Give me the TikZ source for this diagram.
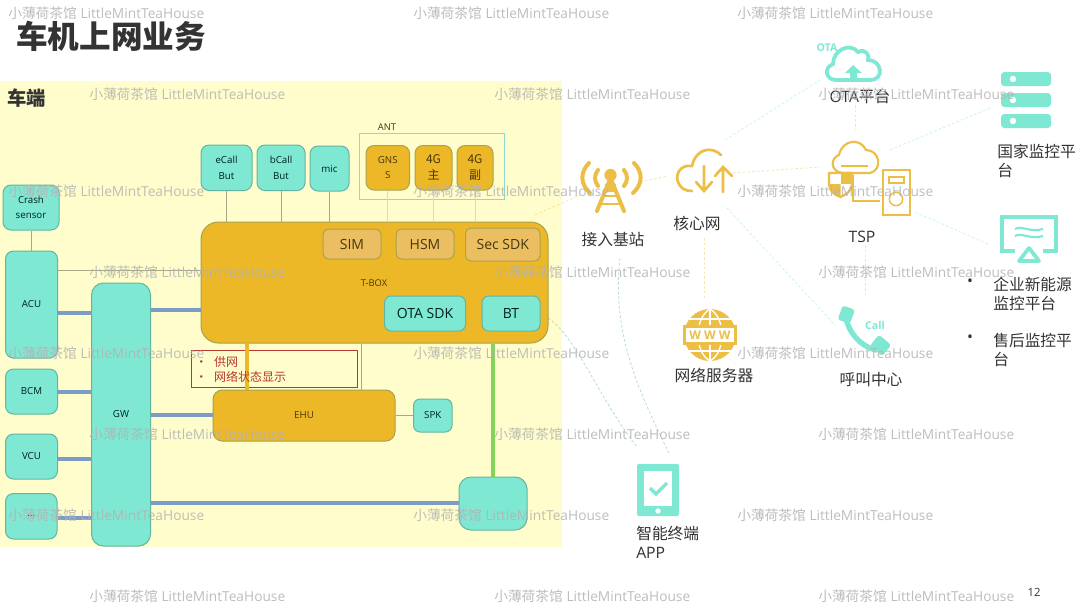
\documentclass[tikz,border=0pt]{standalone}
\usepackage{fontspec}
\setmainfont{Open Sans}
\newfontfamily\cjk{Noto Sans CJK SC}
\definecolor{tealf}{HTML}{7FE8D3}
\definecolor{teald}{HTML}{62B5A2}
\definecolor{orf}{HTML}{EDB827}
\definecolor{ord}{HTML}{A8A24E}
\definecolor{subf}{HTML}{ECBE62}
\definecolor{yel}{HTML}{FEFDCB}
\definecolor{thin}{HTML}{A9A885}
\definecolor{blu}{HTML}{7C9CC8}
\definecolor{grn}{HTML}{84D45C}
\definecolor{txt}{HTML}{333333}
\definecolor{redd}{HTML}{B5392C}
\definecolor{icon}{HTML}{EDBE45}
\definecolor{antc}{HTML}{8ED9C8}
\tikzset{
 tealbase/.style={draw=teald,fill=tealf,line width=.75pt,rounded corners=6pt,inner sep=0pt,align=center,text=black!75!teal},
 tealbox/.style={tealbase,font=\fontsize{7.3}{11.5}\selectfont,execute at begin node={\vspace*{2pt}}},
 orbox/.style={draw=ord,fill=orf,line width=.75pt,rounded corners=6pt,inner sep=0pt,align=center,text=black!70!orf,font=\fontsize{7.3}{11.5}\selectfont,execute at begin node={\vspace*{2pt}}},
 subbox/.style={draw=ord,fill=subf,line width=.75pt,rounded corners=4pt,inner sep=0pt,align=center,text=black!70!orf,font=\fontsize{10.5}{12}\selectfont},
 sdkbox/.style={tealbase,rounded corners=5pt,font=\fontsize{10.5}{12}\selectfont},
 thinline/.style={draw=thin,line width=.6pt},
 bus/.style={draw=blu,line width=2.3pt},
 green bus/.style={draw=grn,line width=2.3pt},
 link/.style={draw=#1,line width=.6pt,dash pattern=on 2pt off 1.6pt,opacity=.4},
 link/.default=tealf,
 lab/.style={inner sep=0pt,text=txt,font=\fontsize{11.8}{14.2}\selectfont,align=left},
 labc/.style={lab,font=\cjk\fontsize{11.8}{14.2}\selectfont},
 wm/.style={inner sep=0pt,text=black!30,opacity=.85,anchor=west,font=\fontsize{10.3}{12}\selectfont},
 ic/.style={draw=icon,line width=2pt,line cap=round},
 tc/.style={draw=tealf,line width=2.8pt,line cap=round}
}
\newcommand\bx[7]{\node[#6,minimum width={(#4-#2)*0.75pt},minimum height={(#5-#3)*0.75pt}] (#1) at ({(#2+#4)/2},{(#3+#5)/2}) {#7};}
\newcommand\wmk[3]{\node[wm] (#1) at (#2,#3) {{\cjk 小薄荷茶馆} LittleMintTeaHouse};}
\begin{document}
\begin{tikzpicture}[x=0.75pt,y=-0.75pt]
\useasboundingbox (0,0) rectangle (1080,608);
\fill[white] (0,0) rectangle (1080,608);
\fill[yel] (0,81) rectangle (562,547);
\node[lab,anchor=west,font=\cjk\bfseries\fontsize{23.7}{26}\selectfont] (title) at (16,36) {车机上网业务};
\node[lab,anchor=west,font=\cjk\bfseries\fontsize{14.5}{16}\selectfont] (car) at (7,98) {车端};
% boxes
\bx{crash}{3}{185}{59}{230}{tealbox}{Crash\\sensor}
\bx{acu}{5.5}{251}{57.5}{358}{tealbox}{ACU}
\bx{bcm}{5.5}{369}{57.5}{414}{tealbox}{BCM}
\bx{vcu}{5.5}{434}{57.5}{479}{tealbox}{VCU}
\bx{etc}{5.5}{493.5}{57}{539}{tealbox}{...}
\bx{gw}{91.5}{283}{150.5}{546}{tealbox,rounded corners=9pt}{GW}
\bx{ecall}{201}{145}{252}{190.5}{tealbox}{eCall\\But}
\bx{bcall}{257}{145}{305}{190.5}{tealbox}{bCall\\But}
\bx{mic}{310}{146}{349}{191}{tealbox}{mic}
\node[draw=antc,line width=.7pt,minimum width=108.75pt,minimum height=49.5pt,inner sep=0pt] (ant) at (431.5,166) {};
\node[lab,font=\fontsize{7}{9}\selectfont] (antl) at (387,127) {ANT};
\bx{gnss}{366}{145.5}{409.5}{190}{orbox}{GNS\\S}
\bx{gz}{415}{145.5}{452}{190}{orbox,font=\cjk\fontsize{9}{12}\selectfont}{4G\\主}
\bx{gf}{457}{145.5}{493}{190}{orbox,font=\cjk\fontsize{9}{12}\selectfont}{4G\\副}
\bx{tbox}{201}{222}{548}{343}{orbox,rounded corners=13pt}{}
\node[lab,font=\fontsize{7}{9}\selectfont,text=black!70!orf] (tl) at (374,283) {T-BOX};
\bx{sim}{323}{229}{381}{259}{subbox}{SIM}
\bx{hsm}{396}{229}{454}{259}{subbox}{HSM}
\bx{sec}{465.5}{228}{540}{261}{subbox}{Sec SDK}
\bx{otasdk}{384.5}{296}{465.5}{331}{sdkbox}{OTA SDK}
\bx{bt}{482}{296}{540}{331}{sdkbox}{BT}
\bx{ehu}{213}{390}{395}{441}{orbox,rounded corners=7pt}{EHU}
\bx{spk}{413.5}{399}{452}{432}{tealbox,rounded corners=5pt}{SPK}
\bx{box}{459}{477}{527}{530}{tealbox,rounded corners=9pt}{}
\node[draw=redd,line width=.7pt,minimum width=124.5pt,minimum height=27.75pt,inner sep=0pt] (red) at (274,368.5) {};
% connectors
\draw[thinline] (crash.south -| 31,0) -- (acu.north -| 31,0);
\draw[thinline] (acu.east |- 0,270) -- (tbox.west |- 0,270);
\draw[thinline] (ecall) -- (ecall |- tbox.north);
\draw[thinline] (bcall) -- (bcall |- tbox.north);
\draw[thinline] (mic) -- (mic |- tbox.north);
\draw[thinline,draw=orf!50!yel] (gnss) -- (gnss |- tbox.north);
\draw[thinline,draw=orf!50!yel] (gz) -- (gz |- tbox.north);
\draw[thinline,draw=orf!50!yel] (gf) -- (gf |- tbox.north);
\draw[thinline] (tbox.south -| 361,0) -- (ehu.north -| 361,0);
\draw[thinline] (ehu) -- (spk);
\draw[draw=orf,line width=2.3pt] (tbox.south -| 247,0) -- (ehu.north -| 247,0);
\node[lab,anchor=west,text=redd,font=\cjk\fontsize{9}{11.2}\selectfont] (redt) at (195,369.5) {•\hspace{5.2pt}供网\\•\hspace{5.2pt}网络状态显示};
\draw[bus] (acu.east |- 0,313) -- (gw.west |- 0,313);
\draw[bus] (gw.east |- 0,310) -- (tbox.west |- 0,310);
\draw[bus] (bcm.east |- 0,392) -- (gw.west |- 0,392);
\draw[bus] (vcu.east |- 0,459) -- (gw.west |- 0,459);
\draw[bus] (etc.east |- 0,518) -- (gw.west |- 0,518);
\draw[bus] (gw.east |- 0,415) -- (ehu.west |- 0,415);
\draw[bus] (gw.east |- 0,503) -- (box.west |- 0,503);
\draw[green bus] (tbox.south -| box.north) -- (box.north);
% right-hand labels
\node[labc] (lbase) at (613,240) {接入基站};
\node[labc] (lcore) at (697,223) {核心网};
\node[lab] (lota) at (860,96) {OTA{\cjk 平台}};
\node[labc,anchor=north west] (lnat) at (997,144) {国家监控平\\台};
\node[lab] (ltsp) at (862,237) {TSP};
\node[labc,anchor=north west] (lent) at (993,277) {企业新能源\\监控平台};
\node[lab] (b1) at (970,283) {•};
\node[labc,anchor=north west] (laft) at (993,333) {售后监控平\\台};
\node[lab] (b2) at (970,339) {•};
\node[labc] (lwww) at (714,375) {网络服务器};
\node[labc] (lcall) at (871,380) {呼叫中心};
\node[lab,anchor=north west] (lapp) at (636,526) {{\cjk 智能终端}\\APP};
\node[lab,font=\fontsize{8.5}{10}\selectfont] (page) at (1034,592) {12};
% link ends
\coordinate (k1) at (535,215); \coordinate (k2) at (580,195);
\coordinate (k3) at (640,182); \coordinate (k4) at (668,176);
\coordinate (k5) at (733,173); \coordinate (k6) at (820,167);
\coordinate (k7) at (725,140); \coordinate (k8) at (820,80);
\coordinate (k9) at (704,238); \coordinate (k10) at (704,300);
\coordinate (k11) at (727,208); \coordinate (k12) at (835,325);
\coordinate (k13) at (855,105); \coordinate (k14) at (855,130);
\coordinate (k15) at (890,150); \coordinate (k16) at (990,108);
\coordinate (k17) at (915,212); \coordinate (k18) at (990,245);
\coordinate (k19) at (865,245); \coordinate (k20) at (865,295);
\coordinate (k21) at (620,258); \coordinate (k22) at (670,455);
\coordinate (k23) at (548,318); \coordinate (k24) at (637,447);
\draw[link=icon] (k1) -- (k2);
\draw[link=icon] (k3) -- (k4);
\draw[link=icon] (k5) -- (k6);
\draw[link=tealf] (k7) -- (k8);
\draw[link=icon] (k9) -- (k10);
\draw[link] (k11) -- (k12);
\draw[link=icon] (k13) -- (k14);
\draw[link] (k15) -- (k16);
\draw[link] (k17) -- (k18);
\draw[link=icon] (k19) -- (k20);
\draw[link=teal!70!white] (k21) .. controls (612,330) and (635,385) .. (k22);
\draw[link=teal!70!white] (k23) .. controls (575,335) and (600,400) .. (k24);
% base station icon
\draw[ic,line width=3pt] (589,163) .. controls (580,172) and (580,184) .. (590,193);
\draw[ic,line width=3pt] (598,170) .. controls (594,175) and (594,181) .. (598,186);
\draw[ic,line width=3pt] (634,163) .. controls (643,172) and (643,184) .. (633,193);
\draw[ic,line width=3pt] (624,170) .. controls (628,175) and (628,181) .. (624,186);
\fill[icon] (610.5,175) circle (4.6pt);
\draw[ic,line width=3pt] (597,211) -- (610.5,178) -- (624,211);
\fill[icon] (605,184) rectangle (616,192);
\draw[icon,line width=2pt] (604,196) -- (617,196) (601,204) -- (620,204);
% core icon
\draw[ic] (721,155) .. controls (712,146) and (696,148) .. (692,166) .. controls (680,164) and (675,175) .. (678,182) .. controls (680,188) and (685,191) .. (692,191);
\draw[ic] (704,166) -- (704,190) (696,182) -- (704,191) -- (712,182);
\draw[ic] (723,192) -- (723,168) (715,176) -- (723,167) -- (732,176);
% OTA icon
\draw[tc] (836,80) .. controls (826,80) and (823,68) .. (833,64) .. controls (833,50) and (850,42) .. (858,52) .. controls (866,48) and (870,56) .. (868,60) .. controls (882,60) and (885,80) .. (870,80) -- cycle;
\fill[tealf] (853,65) -- (845,73) -- (850,73) -- (850,81) -- (857,81) -- (857,73) -- (862,73) -- cycle;
\node[inner sep=0pt,text=tealf,font=\bfseries\fontsize{8}{8}\selectfont] (otat) at (827,48) {OTA};
% national servers
\foreach \yy in {72,93,114}{
 \fill[tealf,rounded corners=2.5pt] (1001,\yy) rectangle (1051,\yy+14);
 \fill[white] (1013,\yy+7) circle (2.4pt);
}
% TSP icon
\draw[ic,line width=1.6pt] (843,173) .. controls (830,172) and (830,158) .. (839,155) .. controls (842,140) and (860,137) .. (866,150) .. controls (880,150) and (883,170) .. (870,173) -- cycle;
\draw[icon,line width=1pt] (841,166) -- (868,166);
\draw[icon,line width=1.6pt,fill=white] (829,173) -- (852,173) -- (852,185) .. controls (851,192) and (845,195) .. (840.5,197) .. controls (835,195) and (830,192) .. (829,185) -- cycle;
\fill[icon] (840.5,173) rectangle (852,184);
\fill[icon] (829,184) -- (840.5,184) -- (840.5,197) .. controls (835,195) and (830,192) .. (829,184) -- cycle;
\draw[icon,line width=1.6pt] (853,175) -- (853,201) -- (880,201);
\draw[icon,line width=1.8pt] (883,170) rectangle (910,215);
\draw[icon,line width=1.1pt] (889,177) rectangle (904,183);
\draw[icon,line width=1.1pt] (896,199) circle (5pt);
% monitor icon
\draw[draw=tealf,line width=3pt] (1015,251) -- (1002,251) -- (1002,217) -- (1056,217) -- (1056,251) -- (1043,251);
\draw[tealf,line width=1.6pt] (1015,229) .. controls (1022,225) and (1030,233) .. (1043,229);
\draw[tealf,line width=1.6pt] (1015,236) .. controls (1022,232) and (1030,240) .. (1043,236);
\draw[tealf,line width=2.8pt,line join=round] (1029,248) -- (1019,261) -- (1039,261) -- cycle;
% globe icon
\fill[icon] (710,335) circle (19.5pt);
\draw[white,line width=1pt] (710,309) -- (710,361);
\draw[white,line width=1pt] (710,309) .. controls (694,318) and (694,352) .. (710,361);
\draw[white,line width=1pt] (710,309) .. controls (726,318) and (726,352) .. (710,361);
\draw[white,line width=1pt] (689,319) -- (731,319) (689,351) -- (731,351);
\fill[icon] (683,325) rectangle (737,345);
\fill[white] (686,328) rectangle (734,342);
\node[inner sep=0pt,text=icon,font=\bfseries\fontsize{9}{10}\selectfont] (wwwt) at (710,335) {W W W};
% call icon
\draw[tealf,line width=4pt,line cap=round] (846,318) .. controls (849,333) and (860,346) .. (876,350);
\fill[tealf,rotate around={-20:(846,314)},rounded corners=2pt] (840,307) rectangle (853,322);
\fill[tealf,rotate around={-40:(880,346)},rounded corners=2pt] (872,338) rectangle (888,352);
\node[inner sep=0pt,text=tealf,font=\bfseries\fontsize{8}{8}\selectfont] (callt) at (875,325) {Call};
% app icon
\fill[tealf,rounded corners=1.5pt] (637,464) rectangle (679,516);
\fill[white] (644,471) rectangle (672,506);
\draw[tealf,line width=2.6pt] (650,488) -- (656,494) -- (667,483);
\fill[white] (658,511) circle (2pt);
% watermarks
\wmk{w1}{8}{13}\wmk{w2}{413}{13}\wmk{w3}{737}{13}
\wmk{w4}{89}{94}\wmk{w5}{494}{94}\wmk{w6}{818}{94}
\wmk{w7}{8}{191}\wmk{w8}{413}{191}\wmk{w9}{737}{191}
\wmk{w10}{89}{272}\wmk{w11}{494}{272}\wmk{w12}{818}{272}
\wmk{w13}{8}{353}\wmk{w14}{413}{353}\wmk{w15}{737}{353}
\wmk{w16}{89}{434}\wmk{w17}{494}{434}\wmk{w18}{818}{434}
\wmk{w19}{8}{515}\wmk{w20}{413}{515}\wmk{w21}{737}{515}
\wmk{w22}{89}{596}\wmk{w23}{494}{596}\wmk{w24}{818}{596}
\end{tikzpicture}
\end{document}
